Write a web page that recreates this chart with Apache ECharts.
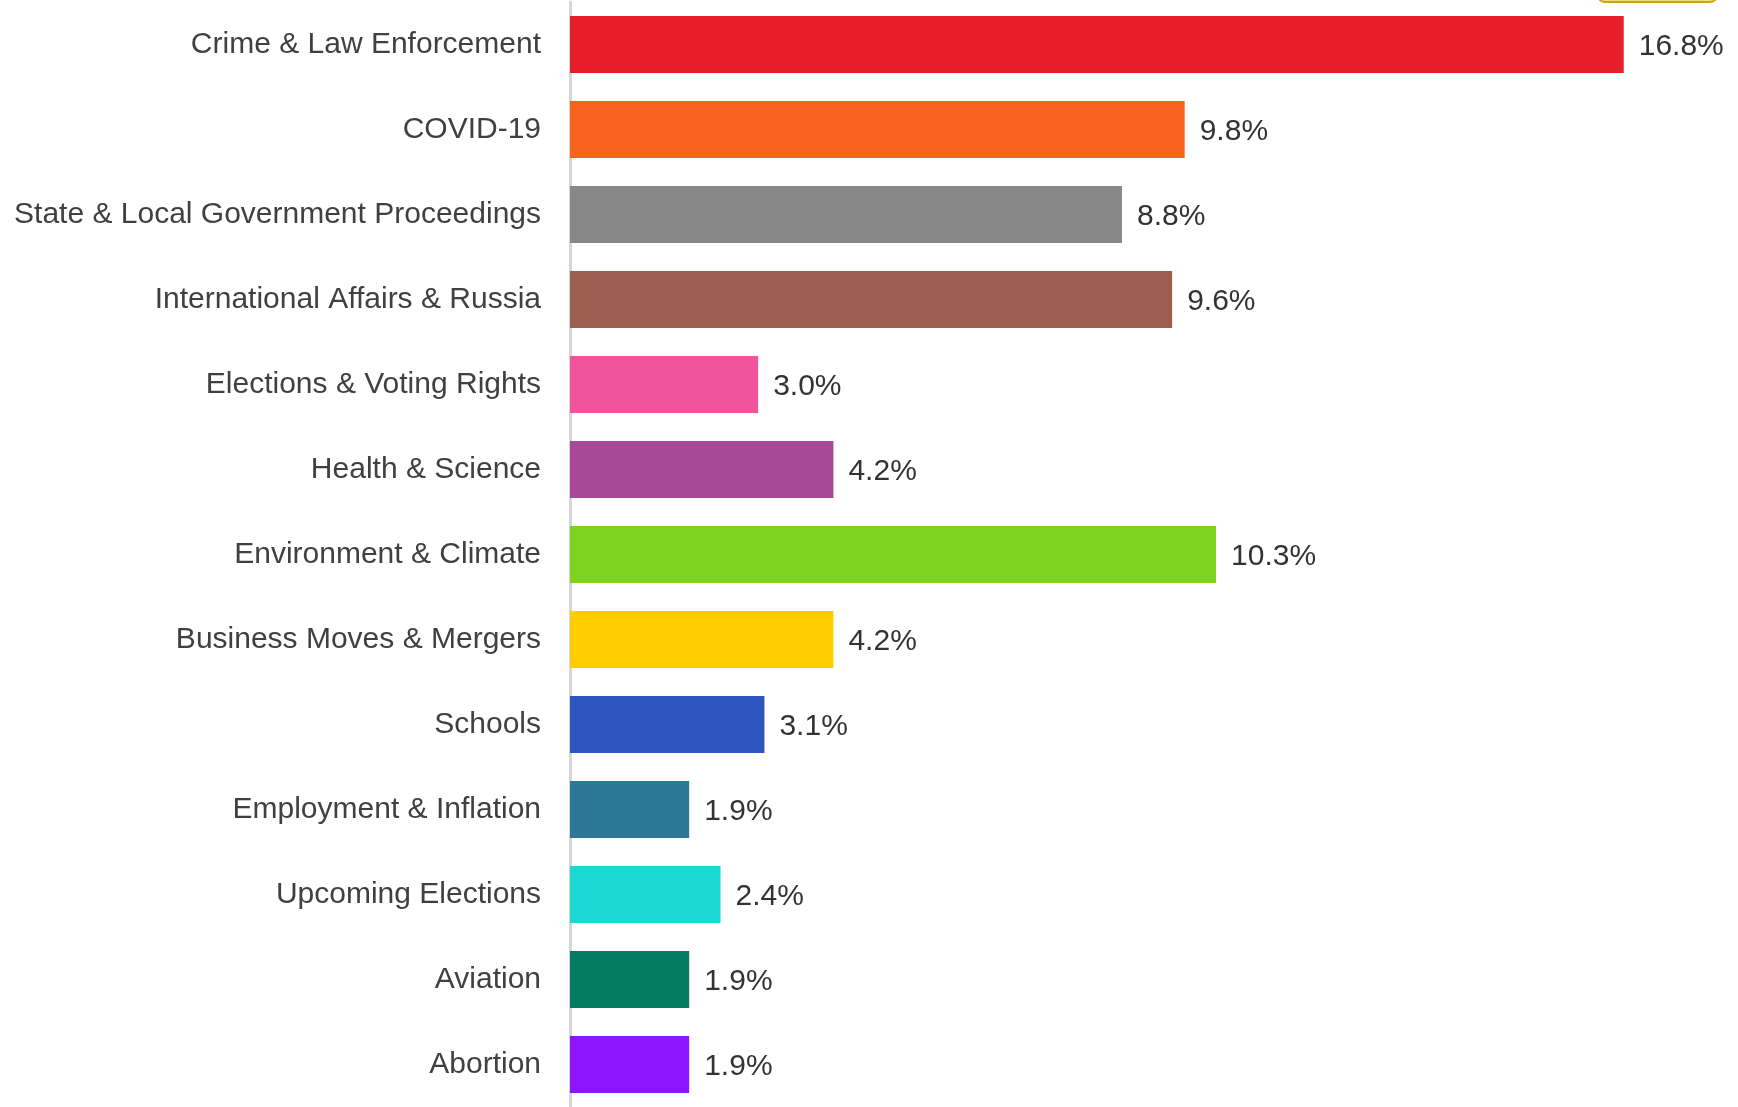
<!DOCTYPE html>
<html>
<head>
<meta charset="utf-8">
<title>Story share by topic</title>
<script src="https://cdn.jsdelivr.net/npm/echarts@6/dist/echarts.min.js"></script>
<style>
  html, body { margin: 0; padding: 0; background: #ffffff; }
  #chart { width: 1738px; height: 1107px; }
</style>
</head>
<body>
<div id="chart"></div>
<script>
// Topic categories, top to bottom
const categories = [
  'Crime & Law Enforcement',
  'COVID-19',
  'State & Local Government Proceedings',
  'International Affairs & Russia',
  'Elections & Voting Rights',
  'Health & Science',
  'Environment & Climate',
  'Business Moves & Mergers',
  'Schools',
  'Employment & Inflation',
  'Upcoming Elections',
  'Aviation',
  'Abortion'
];

// Share of stories (%)
const shares = [16.8, 9.8, 8.8, 9.6, 3.0, 4.2, 10.3, 4.2, 3.1, 1.9, 2.4, 1.9, 1.9];

// One colour per topic
const topicColors = [
  '#E61E2A', '#F7621F', '#888888', '#9A5F50', '#F0559C', '#A64A97', '#7ED321',
  '#FFCC00', '#2F55BE', '#2D7896', '#1CD8D2', '#047B60', '#8B16FF'
];

const chart = echarts.init(document.getElementById('chart'), null, { renderer: 'canvas' });

chart.setOption({
  backgroundColor: '#ffffff',
  animation: false,
  grid: { left: 570, top: 2, width: 1129, height: 1106, containLabel: false },
  xAxis: {
    type: 'value',
    min: 0,
    max: 18,
    show: false,
    splitLine: { show: false }
  },
  yAxis: {
    type: 'category',
    data: categories,
    inverse: true,
    axisLine: { show: true, lineStyle: { color: '#d6d6d6', width: 3 } },
    axisTick: { show: false },
    axisLabel: {
      margin: 29,
      color: '#404040',
      fontFamily: 'Liberation Sans, Arial, sans-serif',
      fontSize: 30
    }
  },
  series: [{
    type: 'bar',
    data: shares.map((v, i) => ({ value: v, itemStyle: { color: topicColors[i] } })),
    barWidth: 57,
    label: {
      show: true,
      position: 'right',
      distance: 15,
      offset: [0, 2],
      color: '#333333',
      fontFamily: 'Liberation Sans, Arial, sans-serif',
      fontSize: 30,
      formatter: p => p.value.toFixed(1) + '%'
    }
  }],
  graphic: [{
    type: 'rect',
    shape: { x: 1597, y: -30, width: 121, height: 32, r: 8 },
    style: { fill: '#f3dc7a', stroke: '#c9a31a', lineWidth: 2 },
    z: 10
  }]
});
</script>
</body>
</html>
